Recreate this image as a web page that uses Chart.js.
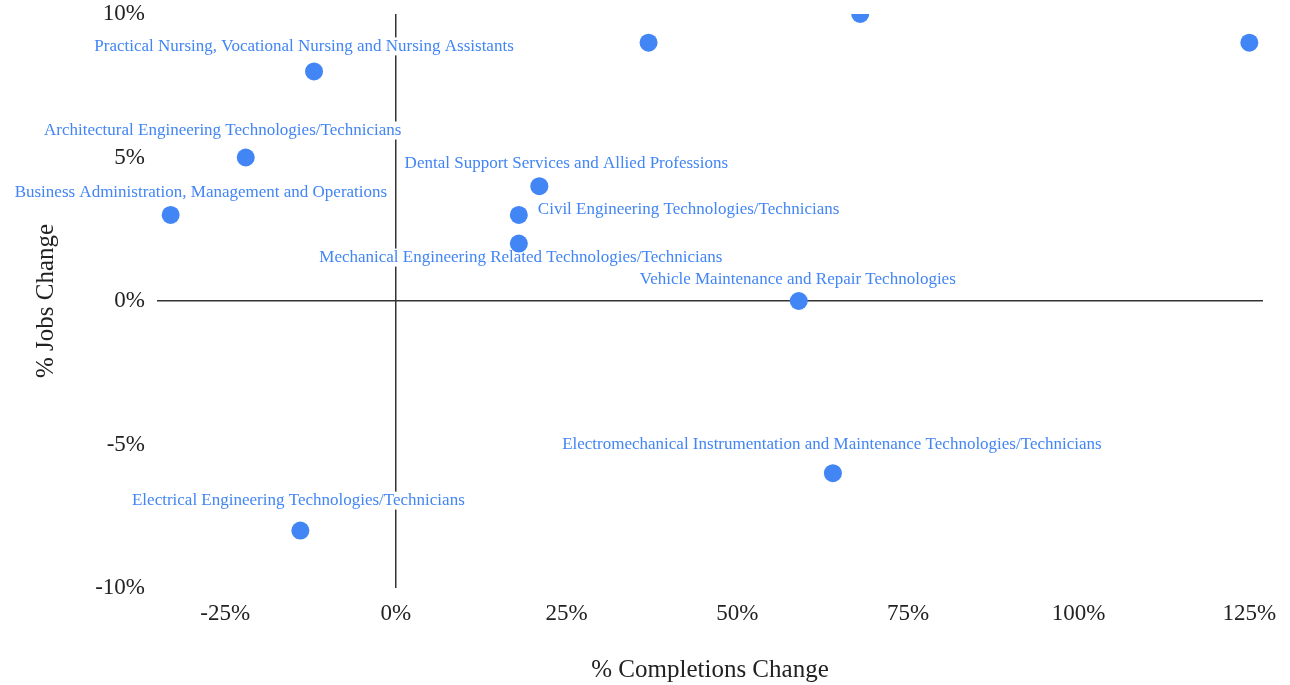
<!DOCTYPE html>
<html>
<head>
<meta charset="utf-8">
<script src="https://cdn.jsdelivr.net/npm/chart.js@4"></script>
<style>
  body { margin: 0; background: #fff; }
  #wrap { width: 1290px; height: 685px; position: relative; }
</style>
</head>
<body>
<div id="wrap"><canvas id="scatterChart"></canvas></div>
<script>
// Datos: programas, % cambio en titulaciones (x) y % cambio en empleos (y)
var programas = [
    "Practical Nursing, Vocational Nursing and Nursing Assistants",
    "Architectural Engineering Technologies/Technicians",
    "Business Administration, Management and Operations",
    "Dental Support Services and Allied Professions",
    "Civil Engineering Technologies/Technicians",
    "Mechanical Engineering Related Technologies/Technicians",
    "Vehicle Maintenance and Repair Technologies",
    "Electromechanical Instrumentation and Maintenance Technologies/Technicians",
    "Electrical Engineering Technologies/Technicians",
    "",
    "",
    ""
];
var completionsChange = [-12, -22, -33, 21, 18, 18, 59, 64, -14, 37, 68, 125];
var jobsChange = [8, 5, 3, 4, 3, 2, 0, -6, -8, 9, 10, 9];

var xTicks = [-25, 0, 25, 50, 75, 100, 125];
var yTicks = [-10, -5, 0, 5, 10];

var SERIF = "Georgia, 'Liberation Serif', 'DejaVu Serif', serif";
var AZUL = '#4285f4';

// donde va cada etiqueta respecto a su punto: [dx, dy, align]
var labelPlacement = [
    [-10, -25, 'center'],
    [-23, -27, 'center'],
    [-156, -22, 'left'],
    [27, -23, 'center'],
    [19, -5, 'left'],
    [2, 14, 'center'],
    [-1, -21, 'center'],
    [-1, -29, 'center'],
    [-2, -30, 'center']
];

var puntos = completionsChange.map(function(x, i) {
    return { x: x, y: jobsChange[i] };
});

function labelBoxes(chart) {
    var meta = chart.getDatasetMeta(0);
    var ctx = chart.ctx;
    ctx.font = '17px ' + SERIF;
    var boxes = [];
    meta.data.forEach(function(pt, i) {
        var txt = programas[i];
        if (!txt) return;
        var p = labelPlacement[i] || [0, -25, 'center'];
        var w = ctx.measureText(txt).width;
        var x = pt.x + p[0];
        var y = pt.y + p[1];
        var left = p[2] === 'left' ? x : x - w / 2;
        boxes.push({ txt: txt, x: x, y: y, align: p[2], left: left, w: w });
    });
    return boxes;
}

// Etiquetas de cada punto con fondo blanco
var etiquetasPlugin = {
    id: 'etiquetas',
    beforeDatasetsDraw: function(chart) {
        var ctx = chart.ctx;
        ctx.save();
        ctx.fillStyle = '#fff';
        labelBoxes(chart).forEach(function(b) {
            ctx.fillRect(b.left - 3, b.y - 9, b.w + 6, 18);
        });
        ctx.restore();
    },
    afterDatasetsDraw: function(chart) {
        var ctx = chart.ctx;
        ctx.save();
        ctx.font = '17px ' + SERIF;
        ctx.fillStyle = AZUL;
        ctx.textBaseline = 'middle';
        labelBoxes(chart).forEach(function(b) {
            ctx.textAlign = b.align;
            ctx.fillText(b.txt, b.x, b.y);
        });
        ctx.restore();
    }
};

function soloCero(c) {
    return c.tick && c.tick.value === 0 ? '#333' : 'rgba(0,0,0,0)';
}

var ctx = document.getElementById('scatterChart').getContext('2d');
var scatterChart = new Chart(ctx, {
    type: 'scatter',
    data: {
        datasets: [{
            label: '% Jobs Change',
            data: puntos,
            backgroundColor: AZUL,
            borderWidth: 0,
            pointRadius: 9,
            pointHoverRadius: 9,
            clip: 0
        }]
    },
    options: {
        responsive: true,
        maintainAspectRatio: false,
        animation: false,
        layout: { padding: { left: 0, right: 27, top: 14, bottom: 0 } },
        plugins: {
            legend: { display: false },
            tooltip: { enabled: false }
        },
        scales: {
            x: {
                type: 'linear',
                min: -35,
                max: 127,
                afterBuildTicks: function(axis) {
                    axis.ticks = xTicks.map(function(v) { return { value: v }; });
                },
                afterFit: function(axis) {
                    axis.height = 97;
                    axis.paddingLeft = 0;
                    axis.paddingRight = 0;
                },
                grid: { color: soloCero, lineWidth: 1.5, drawTicks: false },
                border: { display: false },
                ticks: {
                    padding: 12,
                    color: '#222',
                    font: { family: SERIF, size: 23 },
                    callback: function(v) { return v + '%'; }
                },
                title: {
                    display: true,
                    text: '% Completions Change',
                    color: '#222',
                    font: { family: SERIF, size: 25 },
                    padding: { top: 0, bottom: 0 }
                }
            },
            y: {
                type: 'linear',
                min: -10,
                max: 10,
                afterBuildTicks: function(axis) {
                    axis.ticks = yTicks.map(function(v) { return { value: v }; });
                },
                afterFit: function(axis) {
                    axis.width = 157;
                    axis.paddingTop = 0;
                    axis.paddingBottom = 0;
                },
                grid: { color: soloCero, lineWidth: 1.5, drawTicks: false },
                border: { display: false },
                ticks: {
                    padding: 12,
                    color: '#222',
                    font: { family: SERIF, size: 23 },
                    callback: function(v) { return v + '%'; }
                },
                title: {
                    display: true,
                    text: '% Jobs Change',
                    color: '#222',
                    font: { family: SERIF, size: 25 },
                    padding: { top: 31, bottom: 0 }
                }
            }
        }
    },
    plugins: [etiquetasPlugin]
});
</script>
</body>
</html>
